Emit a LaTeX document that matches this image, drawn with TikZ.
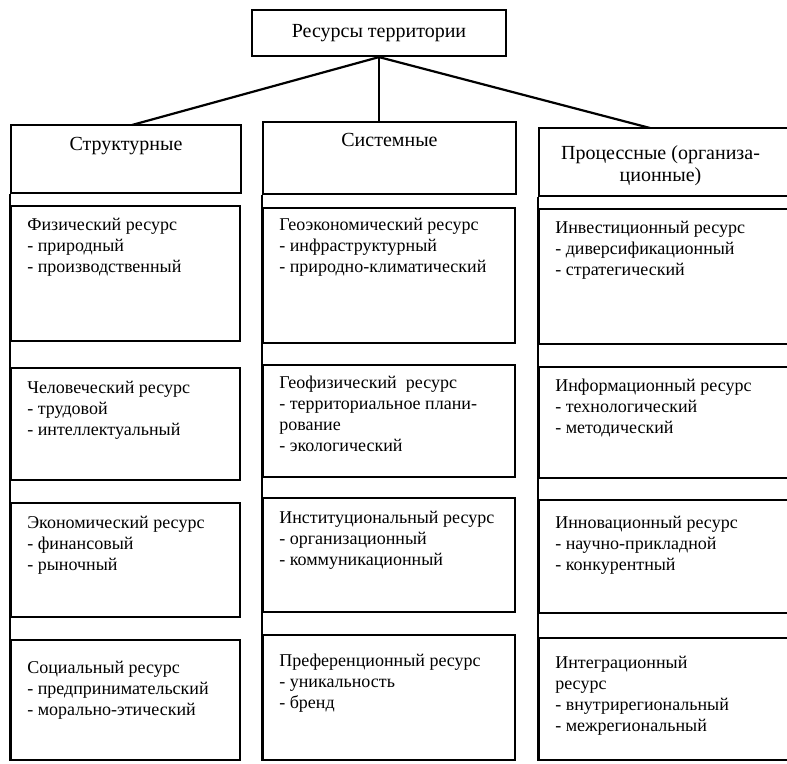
\documentclass[tikz,border=0pt]{standalone}
\usepackage{fontspec}
\setmainfont{Liberation Serif}
\usetikzlibrary{positioning, fit}

\tikzset{
    res/.style={draw, line width=1.1pt, rectangle, inner sep=0pt},
    restext/.style={anchor=north west, inner sep=0pt, align=left, font=\fontsize{9}{10.5}\selectfont},
    headtext/.style={anchor=north, inner sep=0pt, align=center, font=\fontsize{10}{11}\selectfont},
    link/.style={line width=1.1pt}
}

\begin{document}
\begin{tikzpicture}[x=0.5pt, y=-0.5pt]
    \useasboundingbox (0,0) rectangle (787,764);
    \clip (0,0) rectangle (787,764);

    % Root box
    \node[res, fit={(252,10) (506,56)}] (root) {};
    \node[headtext, anchor=center] (roottext) at (root.center) {Ресурсы территории};

    % Column headers
    \node[res, fit={(11,125) (241,193)}] (h1) {};
    \node[res, fit={(263,122) (516,194)}] (h2) {};
    \node[res, fit={(539,128) (800,196)}] (h3) {};
    \node[headtext] (h1text) at ([shift={(0,13)}]h1.north) {Структурные};
    \node[headtext] (h2text) at ([shift={(0,12)}]h2.north) {Системные};
    \node[headtext] (h3text) at ([shift={(-9,18)}]h3.north) {Процессные (организа-\\ционные)};

    % Root to headers
    \coordinate (j1) at (132,125);
    \coordinate (j3) at (650,128);
    \draw[link] (root.south) -- (j1);
    \draw[link] (root.south) -- (root.south |- h2.north);
    \draw[link] (root.south) -- (j3);

    % Resource boxes: name / left / right / top / bottom / text offset / text
    \foreach \n/\xl/\xr/\yt/\yb/\dy/\txt in {
        11/11/240/206/341/13/{Физический ресурс\\- природный\\- производственный},
        12/11/240/368/480/14/{Человеческий ресурс\\- трудовой\\- интеллектуальный},
        13/11/240/503/617/14/{Экономический ресурс\\- финансовый\\- рыночный},
        14/11/240/640/760/22/{Социальный ресурс\\- предпринимательский\\- морально-этический},
        21/263/515/208/343/11/{Геоэкономический ресурс\\- инфраструктурный\\- природно-климатический},
        22/263/515/365/477/12/{Геофизический\ \ ресурс\\- территориальное плани-\\рование\\- экологический},
        23/263/515/498/612/14/{Институциональный ресурс\\- организационный\\- коммуникационный},
        24/263/515/635/760/20/{Преференционный ресурс\\- уникальность\\- бренд},
        31/539/800/209/344/13/{Инвестиционный ресурс\\- диверсификационный\\- стратегический},
        32/539/800/367/478/13/{Информационный ресурс\\- технологический\\- методический},
        33/539/800/500/613/17/{Инновационный ресурс\\- научно-прикладной\\- конкурентный},
        34/539/800/638/760/19/{Интеграционный\\ресурс\\- внутрирегиональный\\- межрегиональный}} {
        \node[res, fit={(\xl,\yt) (\xr,\yb)}] (b\n) {};
        \node[restext] (t\n) at ([shift={(17,\dy)}]b\n.north west) {\txt};
    }

    % Left bus lines of the columns
    \draw[link] (h1.south west) -- (b14.south west);
    \draw[link] (h2.south west) -- (b24.south west);
    \draw[link] (h3.south west) -- (b34.south west);
\end{tikzpicture}
\end{document}
